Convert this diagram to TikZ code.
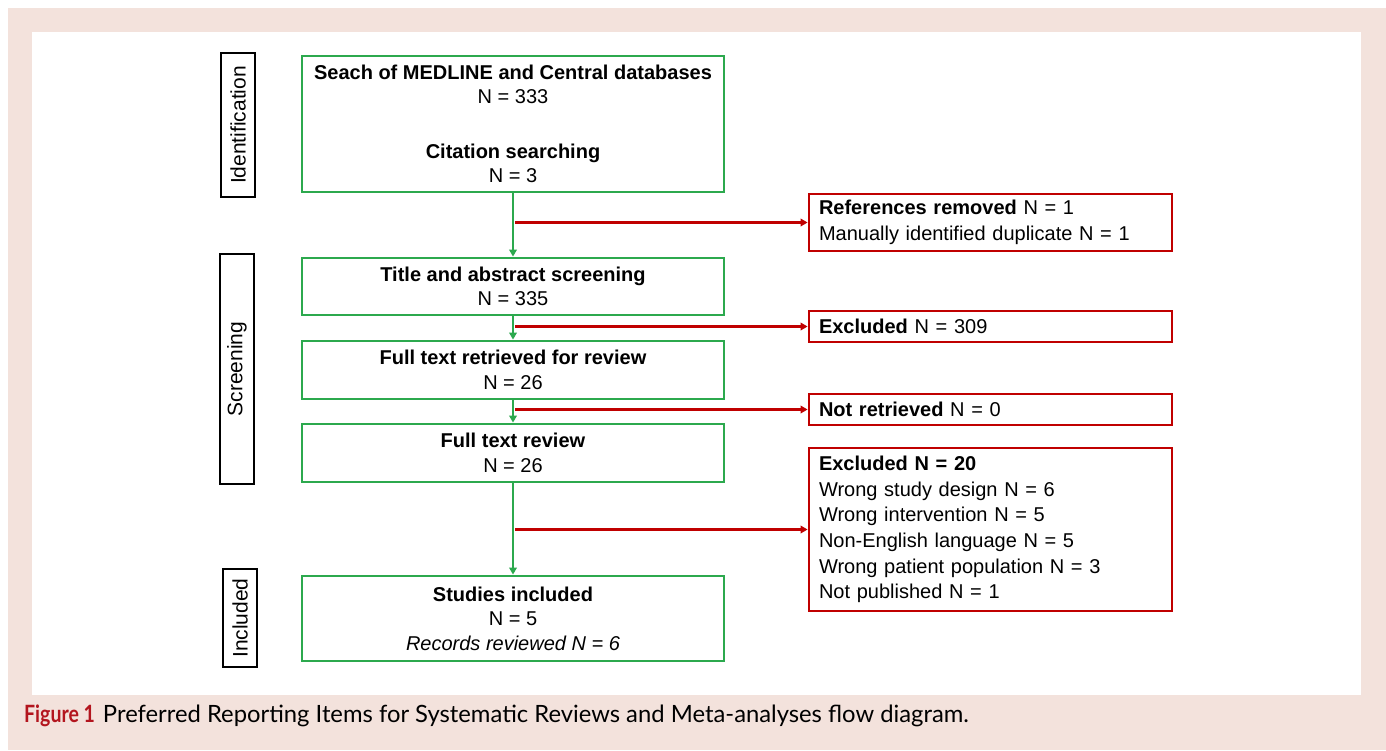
\documentclass[tikz,border=0pt]{standalone}
\usepackage{fontspec}
\usepackage{graphicx}
\setmainfont{Liberation Sans}
\newfontfamily\capfont{Lato}
\usetikzlibrary{arrows.meta}
\definecolor{pinkbg}{HTML}{F3E2DC}
\definecolor{flowgreen}{HTML}{2CA94E}
\definecolor{flowred}{HTML}{C00000}
\definecolor{capred}{HTML}{B3151E}
\tikzset{
  mainbox/.style={draw=flowgreen, line width=2.8bp, minimum width=422bp, align=center, inner sep=0pt,
    font=\fontsize{20bp}{24.5bp}\selectfont},
  sidebox/.style={draw=flowred, line width=2.8bp, minimum width=363bp, text width=343bp, align=left, inner xsep=10bp, inner ysep=0pt,
    font=\fontsize{20bp}{25.6bp}\selectfont},
  stagebox/.style={draw=black, line width=2.8bp, rotate=90, minimum height=34bp, inner sep=0pt,
    font=\fontsize{21bp}{24bp}\selectfont},
  greenarrow/.style={draw=flowgreen, line width=2.8bp, -{Triangle[length=7bp,width=7.5bp]}},
  redarrow/.style={draw=flowred, line width=2.5bp, -{Triangle[length=7bp,width=7.5bp]}},
}
\begin{document}
\begin{tikzpicture}[x=1bp,y=-1bp]
\useasboundingbox (0,0) rectangle (1386,750);
\fill[white] (0,0) rectangle (1386,750);
\fill[pinkbg] (8,8) rectangle (1386,750);
\fill[white] (32,32) rectangle (1361,695);

% stage labels
\node[stagebox, minimum width=144bp] (ident) at (238,125) {Identification};
\node[stagebox, minimum width=230bp] (screen) at (237,369) {Screening};
\node[stagebox, minimum width=98bp] (incl) at (240,618) {Included};

% main boxes
\node[mainbox, minimum height=136bp] (b1) at (513,124)
  {\textbf{Seach of MEDLINE and Central databases}\\N = 333\\[30bp]\textbf{Citation searching}\\N = 3};
\node[mainbox, minimum height=57bp] (b2) at (513,286.5)
  {\textbf{Title and abstract screening}\\N = 335};
\node[mainbox, minimum height=58bp] (b3) at (513,370)
  {\textbf{Full text retrieved for review}\\N = 26};
\node[mainbox, minimum height=58bp] (b4) at (513,453)
  {\textbf{Full text review}\\N = 26};
\node[mainbox, minimum height=85bp] (b5) at (513,618.5)
  {\textbf{Studies included}\\N = 5\\\textit{Records reviewed N = 6}};

% side boxes
\node[sidebox, minimum height=57bp] (r1) at (990.5,222.5)
  {\textbf{References removed} N = 1\\Manually identified duplicate N = 1};
\node[sidebox, minimum height=31bp] (r2) at (990.5,326.5)
  {\textbf{Excluded} N = 309};
\node[sidebox, minimum height=31bp] (r3) at (990.5,409.5)
  {\textbf{Not retrieved} N = 0};
\node[sidebox, minimum height=163bp] (r4) at (990.5,529.5)
  {\textbf{Excluded N = 20}\\Wrong study design N = 6\\Wrong intervention N = 5\\Non-English language N = 5\\Wrong patient population N = 3\\Not published N = 1};

% connectors
\draw[greenarrow] (b1.south) -- (b2.north);
\draw[greenarrow] (b2.south) -- (b3.north);
\draw[greenarrow] (b3.south) -- (b4.north);
\draw[greenarrow] (b4.south) -- (b5.north);
\draw[redarrow] ([xshift=2bp]b1.south |- r1.west) -- (r1.west);
\draw[redarrow] ([xshift=2bp]b2.south |- r2.west) -- (r2.west);
\draw[redarrow] ([xshift=2bp]b3.south |- r3.west) -- (r3.west);
\draw[redarrow] ([xshift=2bp]b4.south |- r4.west) -- (r4.west);

% caption
\node[anchor=base west, inner sep=0pt, font=\capfont\fontsize{23.8bp}{26bp}\selectfont] (cap) at (24,722)
  {\textcolor{capred}{\scalebox{0.82}[1]{\textbf{Figure 1}}}\hspace{8bp}Preferred Reporting Items for Systematic Reviews and Meta-analyses flow diagram.};
\end{tikzpicture}
\end{document}
